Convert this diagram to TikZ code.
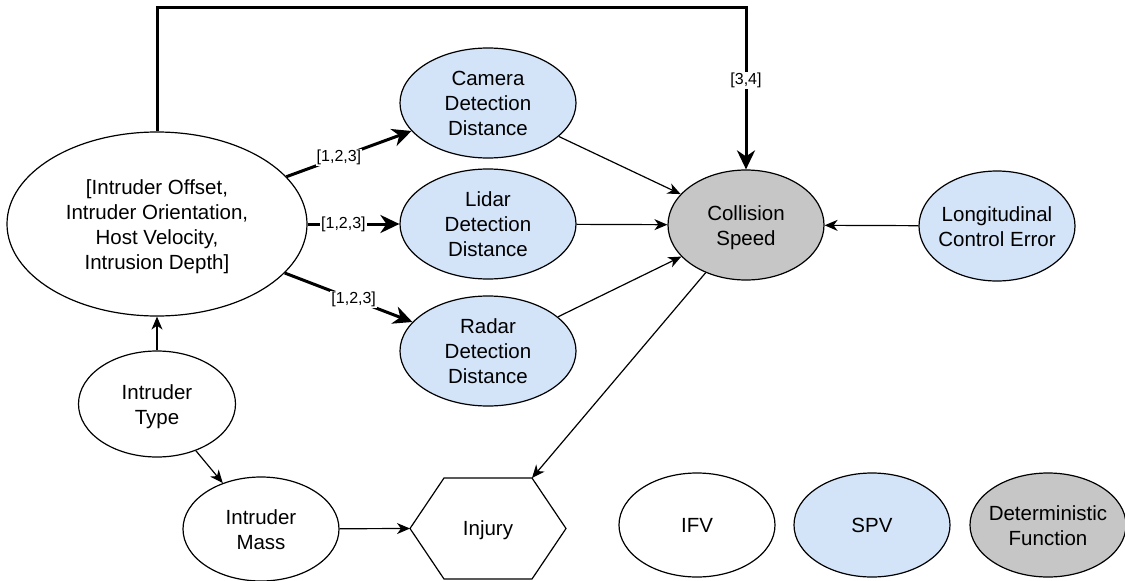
\documentclass[tikz,border=0pt]{standalone}
\usepackage{fontspec}
\setmainfont{Liberation Sans}
\usetikzlibrary{shapes.geometric,arrows.meta}
\newcommand{\zt}[1]{\makebox[0pt]{\raisebox{-2.5pt}[\height][\depth]{\begin{tabular}{@{}c@{}}#1\end{tabular}}}}
\definecolor{spvblue}{HTML}{D3E3F8}
\definecolor{detgray}{HTML}{C6C6C6}
\begin{document}
\begin{tikzpicture}[x=1pt,y=-1pt,
  ell/.style={ellipse,draw,line width=1.2pt,inner sep=0pt,minimum width=156pt,minimum height=106pt,font=\fontsize{20.5}{25}\selectfont},
  blue/.style={fill=spvblue},
  gray/.style={fill=detgray},
  thinarrow/.style={line width=1.2pt,-{Stealth[length=13pt,width=11pt,inset=4pt]}},
  thickarrow/.style={line width=3pt,-{Stealth[length=19pt,width=18pt,inset=6pt]}},
  lab/.style={fill=white,inner sep=1pt,font=\fontsize{16}{16}\selectfont},
  txt/.style={font=\fontsize{20.5}{25}\selectfont,align=center,inner sep=0pt}
]
\useasboundingbox (0,0) rectangle (1125,581);

% nodes
\node[ell,minimum width=300pt,minimum height=184pt] (big) at (157,224)
  {\zt{[Intruder Offset,\\Intruder Orientation,\\Host Velocity,\\Intrusion Depth]}};
\node[ell,blue,minimum width=176pt,minimum height=110pt] (cam) at (488,103) {\zt{Camera\\Detection\\Distance}};
\node[ell,blue,minimum width=176pt,minimum height=110pt] (lid) at (488,224) {\zt{Lidar\\Detection\\Distance}};
\node[ell,blue,minimum width=176pt,minimum height=110pt] (rad) at (488,351) {\zt{Radar\\Detection\\Distance}};
\node[ell,gray,minimum height=110pt] (col) at (746,225) {\zt{Collision\\Speed}};
\node[ell,blue,minimum height=110pt] (lon) at (997,226) {\zt{Longitudinal\\Control Error}};
\node[ell,minimum width=157pt] (typ) at (157,404) {\zt{Intruder\\Type}};
\node[ell,minimum height=104pt] (mass) at (261,529) {\zt{Intruder\\Mass}};
\node[txt] (inj) at (488,530.5) {Injury};
\node[ell,minimum height=104pt] (ifv) at (697,525) {\zt{IFV}};
\node[ell,blue,minimum height=104pt] (spvn) at (872,525) {\zt{SPV}};
\node[ell,gray,minimum height=104pt] (detn) at (1048,525) {\zt{Deterministic\\Function}};

% hexagon for Injury
\coordinate (h1) at (410,528.5);
\coordinate (h2) at (444,478);
\coordinate (h3) at (532,478);
\coordinate (h4) at (566,528.5);
\coordinate (h5) at (532,579);
\coordinate (h6) at (444,579);
\draw[line width=1.2pt,line join=miter] (h1) -- (h2) -- (h3) -- (h4) -- (h5) -- (h6) -- cycle;

\coordinate (topR) at (746,7);

% thick connectors
\draw[thickarrow] (big) -- node[lab,pos=.42]{[1,2,3]} (cam);
\draw[thickarrow] (big) -- node[lab,pos=.39]{[1,2,3]} (lid);
\draw[thickarrow] (big) -- node[lab,pos=.54]{[1,2,3]} (rad);
\draw[thickarrow,line join=miter] (big.north) |- (topR) -- node[lab,pos=.45]{[3,4]} (col.north);

% thin connectors
\draw[thinarrow] (cam) -- (col);
\draw[thinarrow] (lid) -- (col);
\draw[thinarrow] (rad) -- (col);
\draw[thinarrow] (lon) -- (col);
\draw[thinarrow] (col) -- (h3);
\draw[thinarrow] (typ) -- (big);
\draw[thinarrow] (typ) -- (mass);
\draw[thinarrow] (mass) -- (h1);
\end{tikzpicture}
\end{document}
